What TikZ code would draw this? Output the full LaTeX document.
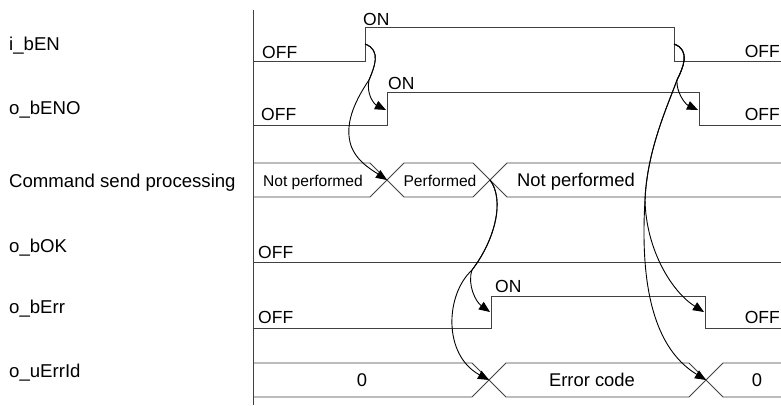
\documentclass[tikz,border=0pt]{standalone}
\usepackage{fontspec}
\setmainfont{Liberation Sans}
\usetikzlibrary{arrows.meta}

\begin{document}
\begin{tikzpicture}[
    x=1pt, y=-1pt,
    sig/.style={draw=black!75, line width=0.9pt},
    signame/.style={inner sep=0pt, anchor=base west, font=\fontsize{18.6}{21}\selectfont},
    lvl/.style={inner sep=0pt, anchor=base west, font=\fontsize{17.5}{20}\selectfont},
    lvlr/.style={lvl, anchor=base east},
    val/.style={inner sep=0pt, anchor=base, font=\fontsize{18.4}{21}\selectfont},
    sval/.style={val, font=\fontsize{15.6}{18}\selectfont},
    arr/.style={-{Triangle[length=11pt,width=9pt]}, line width=0.9pt, black}
  ]
  \useasboundingbox (0,0) rectangle (781,405);

  \node[signame] (nEN) at (9,50) {i\_bEN};
  \node[signame] (nENO) at (9,114) {o\_bENO};
  \node[signame] (nCmd) at (9,187) {Command send processing};
  \node[signame] (nOK) at (9,252) {o\_bOK};
  \node[signame] (nErr) at (9,313) {o\_bErr};
  \node[signame] (nId) at (9,377) {o\_uErrId};

  \draw[sig] (253,10) -- (253,405);

  % bit signals
  \draw[sig] (253,61) -- (365,61) -- (365,27) -- (674,27) -- (674,61) -- (781,61);
  \draw[sig] (253,125) -- (387,125) -- (387,92) -- (699,92) -- (699,125) -- (781,125);
  \draw[sig] (253,262) -- (781,262);
  \draw[sig] (253,328) -- (491,328) -- (491,296) -- (705,296) -- (705,328) -- (781,328);

  % data signals
  \draw[sig] (253,163) -- (370,163) -- (404,197) -- (473,197) -- (507,163) -- (781,163);
  \draw[sig] (253,197) -- (370,197) -- (404,163) -- (473,163) -- (507,197) -- (781,197);
  \draw[sig] (253,363) -- (472,363) -- (506,397) -- (689,397) -- (723,363) -- (781,363);
  \draw[sig] (253,397) -- (472,397) -- (506,363) -- (689,363) -- (723,397) -- (781,397);

  \node[lvl] (enOff) at (262,58) {OFF};
  \node[lvl] (enOn) at (363,25) {ON};
  \node[lvlr] (enOff2) at (780,57) {OFF};
  \node[lvl] (enoOff) at (261,120) {OFF};
  \node[lvl] (enoOn) at (388,89) {ON};
  \node[lvlr] (enoOff2) at (780,120) {OFF};
  \node[lvl] (okOff) at (258,258) {OFF};
  \node[lvl] (errOff) at (258,323) {OFF};
  \node[lvl] (errOn) at (495,292) {ON};
  \node[lvlr] (errOff2) at (780,323) {OFF};

  \node[sval] (cmdNot) at (313,186) {Not performed};
  \node[sval] (cmdDo) at (440,186) {Performed};
  \node[val] (cmdNot2) at (576,186) {Not performed};
  \node[val] (idZero) at (362,386) {0};
  \node[val] (idCode) at (592,386) {Error code};
  \node[val] (idZero2) at (757,386) {0};

  \coordinate (enRise) at (365,44);
  \coordinate (enFall) at (674,44);
  \coordinate (enoRise) at (386,110);
  \coordinate (enoFall) at (698,110);
  \coordinate (cmdX1) at (387,180);
  \coordinate (cmdX2) at (490,180);
  \coordinate (errRise) at (490,312);
  \coordinate (errFall) at (704,312);
  \coordinate (idX1) at (489,380);
  \coordinate (idX2) at (706,380);

  \draw[arr] (enRise) .. controls (382,50) and (374,68) .. (369,80) .. controls (366,94) and (374,104) .. (enoRise);
  \draw[arr] (enRise) .. controls (382,50) and (374,68) .. (369,80) .. controls (352,105) and (346,125) .. (350,142) .. controls (354,160) and (372,170) .. (cmdX1);
  \draw[arr] (enFall) .. controls (691,50) and (683,68) .. (677,80) .. controls (676,92) and (685,104) .. (enoFall);
  \draw[arr] (enFall) .. controls (691,50) and (683,68) .. (677,80) .. controls (668,105) and (647,150) .. (645,200) .. controls (646,250) and (672,292) .. (errFall);
  \draw[arr] (enFall) .. controls (691,50) and (683,68) .. (677,80) .. controls (668,105) and (647,150) .. (645,200) .. controls (639,300) and (660,352) .. (idX2);
  \draw[arr] (cmdX2) .. controls (505,200) and (495,240) .. (472,270) .. controls (467,285) and (476,302) .. (errRise);
  \draw[arr] (cmdX2) .. controls (505,200) and (495,240) .. (472,270) .. controls (445,295) and (443,355) .. (idX1);
\end{tikzpicture}
\end{document}
